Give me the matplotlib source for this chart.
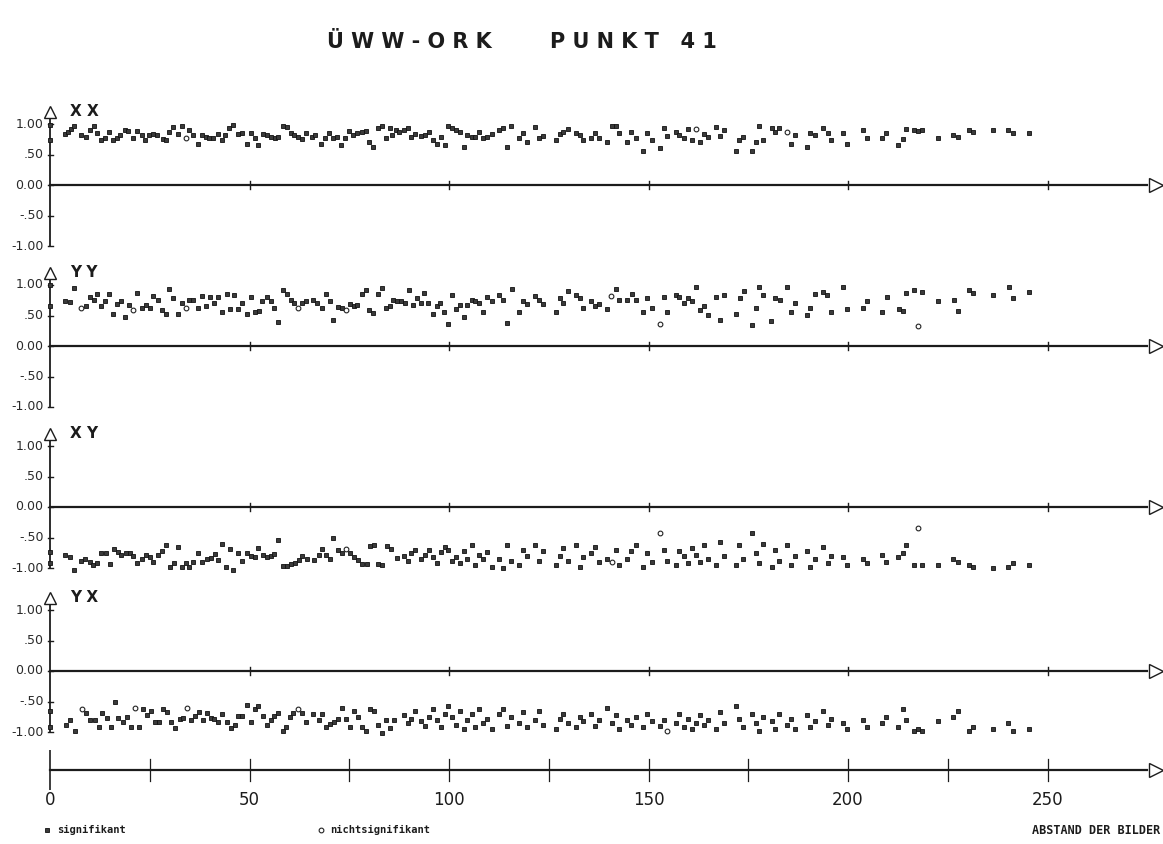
import numpy as np
import matplotlib.pyplot as plt

W, H = 1163, 844
PX_PER_UNIT = 3.99   # horizontal scale of the plot (pixels per Abstand unit)
X0_PX = 50           # pixel column of Abstand = 0
Y_SCALE = 61         # pixels per correlation unit

# ---- data: X X ----
xx_lag = [0, 0, 3.8, 4.6, 5.2, 5.9, 7.8, 8.9, 9.9, 11.0, 11.9, 12.8, 13.8, 14.9, 15.7, 16.7, 17.5, 18.8, 19.6,
          20.9, 21.7, 23.0, 23.8, 24.7, 25.7, 26.9, 28.2, 29.0, 29.9, 30.9, 32.0, 33.0, 34.1, 34.9, 35.8, 37.0,
          38.0, 39.1, 39.9, 40.9, 42.0, 43.0, 43.9, 44.9, 45.9, 47.0, 48.0, 49.3, 50.3, 51.4, 52.2, 53.5, 54.3,
          55.3, 56.4, 57.2, 58.3, 59.3, 60.3, 61.2, 62.2, 63.2, 64.2, 65.6, 66.4, 67.8, 68.8, 70.0, 70.9, 72.0,
          73.0, 74.0, 75.0, 76.0, 77.0, 78.1, 79.2, 80.0, 81.0, 82.3, 83.1, 84.2, 85.1, 85.8, 86.6, 87.5, 88.6,
          89.6, 90.5, 91.5, 92.9, 94.0, 95.1, 96.0, 96.9, 97.9, 98.9, 99.8, 100.7, 101.7, 102.8, 103.8, 104.6,
          105.7, 106.5, 107.5, 108.6, 109.6, 110.7, 112.5, 113.6, 114.6, 115.5, 117.6, 118.6, 119.6, 121.5,
          122.6, 123.6, 126.7, 127.8, 128.6, 129.7, 131.8, 132.8, 133.7, 135.5, 136.6, 137.7, 139.7, 140.9,
          141.8, 142.7, 144.7, 145.6, 146.8, 148.7, 149.7, 150.8, 152.9, 153.9, 154.7, 156.8, 157.7, 158.8,
          160.0, 161.0, 161.9, 162.9, 163.9, 165.0, 166.9, 167.9, 168.9, 172.0, 172.8, 173.8, 175.9, 176.9,
          177.8, 178.8, 180.9, 181.8, 182.8, 184.8, 185.8, 186.7, 189.7, 190.5, 191.7, 193.7, 194.9, 195.7,
          198.7, 199.7, 203.7, 204.7, 208.6, 209.5, 212.5, 213.7, 214.5, 216.5, 217.6, 218.6, 222.6, 226.4,
          227.6, 230.4, 231.4, 236.4, 240.2, 241.4, 245.3]
xx_val = [0.98, 0.74, .84, .87, .91, .97, .82, .78, .90, .96, .86, .74, .77, .87, .74, .77, .82, .90, .89,
          .77, .89, .82, .73, .82, .84, .82, .75, .73, .87, .95, .84, .96, .77, .90, .82, .68,
          .82, .79, .77, .77, .84, .73, .82, .93, .98, .84, .85, .68, .86, .77, .66, .84, .82,
          .78, .77, .78, .97, .95, .86, .82, .78, .75, .85, .78, .82, .68, .77, .86, .77, .79,
          .66, .77, .89, .82, .85, .87, .89, .70, .63, .93, .96, .77, .93, .82, .90, .87, .90,
          .93, .78, .84, .81, .82, .87, .73, .68, .79, .66, .97, .93, .90, .87, .62, .82,
          .78, .79, .87, .77, .79, .84, .90, .93, .63, .96, .77, .85, .71, .95,
          .77, .81, .73, .84, .87, .91, .85, .82, .73, .77, .86, .77, .70, .96,
          .97, .85, .70, .87, .77, .55, .85, .74, .60, .93, .81, .87, .82, .77,
          .91, .74, .91, .70, .84, .79, .95, .81, .90, .55, .74, .78, .56, .70,
          .97, .74, .94, .87, .93, .87, .68, .82, .62, .85, .82, .93, .86, .73,
          .86, .68, .90, .77, .77, .86, .66, .75, .91, .90, .89, .90, .77, .82,
          .79, .90, .87, .90, .90, .85, .85]
xx_open = [34.1, 161.9, 184.8]

# ---- data: Y Y ----
yy_lag = [0, 0, 3.8, 4.9, 5.9, 7.8, 8.9, 9.9, 11.0, 11.9, 12.8, 13.9, 14.9, 15.9, 16.9, 17.8, 18.8, 19.8, 20.9,
          21.9, 23.0, 24.0, 25.1, 25.9, 27.0, 28.0, 29.0, 29.9, 30.9, 32.0, 33.0, 34.0, 34.9, 35.9, 37.0, 38.0,
          39.1, 40.1, 41.1, 42.2, 43.0, 44.3, 45.1, 46.2, 47.2, 48.2, 49.3, 50.3, 51.4, 52.5, 53.2, 54.3, 55.3,
          56.2, 57.2, 58.3, 59.3, 60.3, 61.2, 62.1, 63.1, 64.1, 66.0, 67.0, 68.1, 69.2, 70.2, 71.0, 72.3, 73.3,
          74.3, 75.2, 76.2, 77.0, 78.1, 79.1, 80.0, 81.0, 82.1, 83.1, 84.2, 85.2, 86.0, 87.0, 87.9, 88.9, 90.1,
          90.9, 91.9, 92.9, 93.8, 94.8, 95.9, 96.9, 97.7, 98.8, 99.8, 100.7, 101.7, 102.8, 103.8, 104.6, 105.7,
          106.5, 107.5, 108.6, 109.6, 110.7, 112.5, 113.6, 114.6, 115.7, 117.6, 118.6, 119.6, 121.5, 122.6,
          123.6, 126.7, 127.8, 128.6, 129.7, 131.8, 132.8, 133.7, 135.5, 136.6, 137.7, 139.7, 140.6, 141.8,
          142.7, 144.7, 145.8, 146.8, 148.7, 149.7, 150.8, 152.9, 153.9, 154.7, 156.8, 157.7, 158.8, 160.0,
          161.0, 161.9, 162.9, 163.9, 165.0, 166.9, 167.9, 168.9, 172.0, 173.0, 174.0, 175.9, 176.9, 177.8,
          178.8, 180.8, 181.7, 183.0, 184.8, 185.8, 186.7, 189.7, 190.6, 191.7, 193.7, 194.7, 195.7, 198.7,
          199.7, 203.7, 204.7, 208.6, 209.7, 212.9, 213.7, 214.5, 216.5, 217.5, 218.6, 222.6, 226.5, 227.6,
          230.4, 231.4, 236.4, 240.4, 241.4, 245.4]
yy_val = [1.00, 0.66, .74, .72, .95, .62, .66, .80, .75, .85, .66, .73, .86, .52, .69, .73, .48, .67, .59,
          .87, .62, .67, .63, .82, .75, .59, .52, .93, .78, .52, .71, .62, .76, .76, .62, .82,
          .65, .80, .71, .81, .55, .86, .60, .84, .60, .71, .52, .81, .56, .58, .73, .81, .74,
          .63, .40, .92, .85, .76, .70, .62, .71, .74, .76, .70, .63, .86, .73, .42, .64, .63,
          .59, .69, .66, .67, .85, .91, .59, .54, .85, .95, .62, .65, .75, .74, .73, .70, .92,
          .67, .78, .70, .87, .70, .52, .66, .70, .56, .36, .84, .60, .67, .48, .67, .76,
          .73, .70, .55, .80, .73, .84, .75, .37, .93, .56, .73, .69, .82, .75,
          .69, .56, .78, .71, .90, .84, .78, .63, .73, .65, .69, .60, .82, .93,
          .75, .75, .86, .75, .55, .78, .63, .36, .81, .56, .84, .81, .70, .78,
          .73, .96, .59, .66, .51, .81, .42, .84, .52, .78, .90, .34, .63, .97,
          .84, .41, .78, .75, .96, .55, .71, .51, .62, .85, .89, .84, .56, .96,
          .60, .63, .73, .55, .80, .60, .58, .87, .92, .33, .89, .74, .75, .58,
          .92, .87, .84, .96, .78, .89]
yy_open = [7.8, 20.9, 34.0, 62.1, 74.3, 140.6, 152.9, 217.5]

# ---- data: X Y ----
xy_lag = [0, 0, 3.8, 4.9, 6.0, 7.8, 8.8, 9.9, 10.9, 11.9, 12.9, 14.0, 15.0, 16.0, 17.1, 17.9, 19.1, 20.1, 20.9,
          21.9, 23.0, 24.0, 25.1, 25.9, 27.0, 28.0, 29.0, 30.1, 31.1, 32.2, 33.0, 34.1, 34.9, 35.9, 37.2, 38.2,
          39.3, 40.3, 41.4, 42.2, 43.0, 44.1, 45.1, 45.9, 47.0, 48.2, 49.3, 50.3, 51.4, 52.2, 53.5, 54.3, 55.3,
          56.2, 57.2, 58.3, 59.3, 60.3, 61.4, 62.4, 63.2, 64.3, 66.2, 67.3, 68.1, 69.2, 70.2, 71.0, 72.1, 73.3,
          74.3, 75.2, 76.2, 77.3, 78.3, 79.4, 80.2, 81.2, 82.1, 83.1, 84.4, 85.4, 86.9, 88.6, 89.6, 90.5, 91.5,
          92.9, 94.0, 95.1, 96.0, 96.9, 97.9, 98.9, 99.8, 100.7, 101.7, 102.8, 103.8, 104.6, 105.7, 106.5,
          107.5, 108.6, 109.6, 110.7, 112.5, 113.6, 114.6, 115.5, 117.6, 118.6, 119.6, 121.5, 122.6, 123.6,
          126.7, 127.8, 128.6, 129.7, 131.8, 132.8, 133.7, 135.5, 136.6, 137.7, 139.7, 140.9, 141.8, 142.7,
          144.7, 145.6, 146.8, 148.7, 149.7, 150.8, 152.9, 153.9, 154.7, 156.8, 157.7, 158.8, 160.0, 161.0,
          161.9, 162.9, 163.9, 165.0, 166.9, 167.9, 168.9, 172.0, 172.8, 173.8, 175.9, 176.9, 177.8, 178.8,
          180.9, 181.8, 182.8, 184.8, 185.8, 186.7, 189.7, 190.5, 191.7, 193.7, 194.9, 195.7, 198.7, 199.7,
          203.7, 204.7, 208.6, 209.5, 212.5, 213.7, 214.5, 216.5, 217.6, 218.6, 222.6, 226.4, 227.6, 230.4,
          231.4, 236.4, 240.2, 241.4, 245.3]
xy_val = [-0.73, -0.92, -.79, -.82, -1.04, -.88, -.86, -.90, -.95, -.91, -.76, -.76, -.93, -.69, -.73, -.79,
          -.76, -.75, -.80, -.92, -.86, -.79, -.82, -.90, -.79, -.72, -.62, -.99, -.91, -.65, -.99, -.91,
          -.98, -.90, -.75, -.90, -.86, -.84, -.77, -.87, -.60, -.99, -.69, -1.04, -.75, -.88, -.75, -.80,
          -.82, -.68, -.79, -.82, -.81, -.77, -.54, -.97, -.97, -.93, -.91, -.87, -.81, -.86, -.87, -.79,
          -.69, -.79, -.86, -.50, -.71, -.76, -.69, -.76, -.82, -.87, -.93, -.93, -.64, -.62, -.93, -.95,
          -.64, -.69, -.84, -.80, -.88, -.75, -.70, -.85, -.78, -.70, -.82, -.92, -.74, -.65, -.70, -.88,
          -.82, -.92, -.72, -.85, -.62, -.95, -.78, -.85, -.74, -.98, -.86, -1.0, -.62, -.88, -.95, -.70,
          -.80, -.62, -.88, -.72, -.95, -.80, -.68, -.88, -.62, -.98, -.82, -.75, -.65, -.90, -.85, -.90,
          -.70, -.95, -.85, -.72, -.62, -.98, -.75, -.90, -.42, -.70, -.88, -.95, -.72, -.80, -.92, -.68,
          -.78, -.90, -.62, -.85, -.95, -.58, -.80, -.95, -.62, -.85, -.42, -.75, -.92, -.60, -.98, -.70,
          -.88, -.62, -.95, -.80, -.72, -.98, -.85, -.65, -.92, -.80, -.82, -.95, -.85, -.92, -.78, -.90,
          -.82, -.75, -.62, -.95, -.35, -.95, -.95, -.85, -.90, -.95, -.98, -1.0, -.98, -.92, -.95]
xy_open = [74.3, 140.9, 152.9, 217.6]

# ---- data: Y X ----
yx_lag = [0, 0, 3.9, 5.0, 6.3, 7.9, 9.0, 10.0, 11.3, 12.3, 13.1, 14.2, 15.2, 16.3, 17.1, 18.2, 19.4, 20.3, 21.3,
          22.3, 23.2, 24.2, 25.3, 26.3, 27.4, 28.2, 29.2, 30.3, 31.3, 32.6, 33.4, 34.3, 35.3, 36.3, 37.3, 38.3,
          39.3, 40.3, 41.2, 42.2, 43.2, 44.3, 45.3, 46.4, 47.2, 48.2, 49.3, 50.3, 51.4, 52.2, 53.3, 54.3, 55.3,
          56.2, 57.2, 58.3, 59.2, 60.2, 61.0, 62.1, 63.1, 64.2, 66.0, 67.3, 68.1, 69.2, 70.2, 71.2, 72.3, 73.1,
          74.3, 75.2, 76.2, 77.3, 78.3, 79.2, 80.2, 81.2, 82.1, 83.1, 84.2, 85.2, 86.2, 88.6, 89.6, 90.5, 91.5,
          92.9, 94.0, 95.1, 96.0, 96.9, 97.9, 98.9, 99.8, 100.7, 101.7, 102.8, 103.8, 104.6, 105.7, 106.5,
          107.5, 108.6, 109.6, 110.7, 112.5, 113.6, 114.6, 115.5, 117.6, 118.6, 119.6, 121.5, 122.6, 123.6,
          126.7, 127.8, 128.6, 129.7, 131.8, 132.8, 133.7, 135.5, 136.6, 137.7, 139.7, 140.9, 141.8, 142.7,
          144.7, 145.6, 146.8, 148.7, 149.7, 150.8, 152.9, 153.9, 154.7, 156.8, 157.7, 158.8, 160.0, 161.0,
          161.9, 162.9, 163.9, 165.0, 166.9, 167.9, 168.9, 172.0, 172.8, 173.8, 175.9, 176.9, 177.8, 178.8,
          180.9, 181.8, 182.8, 184.8, 185.8, 186.7, 189.7, 190.5, 191.7, 193.7, 194.9, 195.7, 198.7, 199.7,
          203.7, 204.7, 208.6, 209.5, 212.5, 213.7, 214.5, 216.5, 217.6, 218.6, 222.6, 226.4, 227.6, 230.4,
          231.4, 236.4, 240.2, 241.4, 245.3]
yx_val = [-0.66, -0.91, -.88, -.81, -.98, -.63, -.69, -.81, -.80, -.92, -.69, -.77, -.92, -.50, -.77, -.83,
          -.76, -.92, -.61, -.91, -.63, -.72, -.66, -.84, -.84, -.62, -.67, -.84, -.93, -.78, -.77, -.60,
          -.80, -.74, -.67, -.81, -.69, -.77, -.78, -.84, -.70, -.84, -.93, -.88, -.74, -.73, -.55, -.83,
          -.62, -.58, -.74, -.89, -.80, -.74, -.69, -.98, -.92, -.76, -.69, -.63, -.69, -.83, -.70, -.81,
          -.70, -.91, -.87, -.84, -.78, -.60, -.78, -.92, -.65, -.76, -.91, -.98, -.63, -.66, -.88, -1.02,
          -.81, -.93, -.81, -.72, -.85, -.78, -.66, -.82, -.90, -.75, -.62, -.80, -.92, -.70, -.58, -.75,
          -.88, -.65, -.95, -.80, -.70, -.92, -.62, -.85, -.78, -.95, -.70, -.62, -.90, -.75, -.85, -.68,
          -.92, -.80, -.65, -.88, -.95, -.78, -.70, -.85, -.92, -.75, -.82, -.70, -.90, -.80, -.60, -.85,
          -.72, -.95, -.80, -.88, -.75, -.92, -.70, -.82, -.90, -.80, -.98, -.85, -.70, -.92, -.78, -.95,
          -.85, -.72, -.88, -.80, -.95, -.68, -.85, -.58, -.78, -.92, -.70, -.85, -.98, -.75, -.82, -.95,
          -.70, -.88, -.78, -.95, -.72, -.92, -.82, -.65, -.88, -.78, -.85, -.95, -.80, -.92, -.85, -.75,
          -.92, -.62, -.80, -.98, -.95, -.98, -.82, -.75, -.65, -.98, -.92, -.95, -.85, -.98, -.95]
yx_open = [7.9, 21.3, 34.3, 62.1, 154.7]

panel_labels = ["X X", "Y Y", "X Y", "Y X"]
ytick_vals = [1.0, 0.5, 0.0, -0.5, -1.0]
ytick_text = ["1.00", ".50", "0.00", "-.50", "-1.00"]
xtick_major = [0, 50, 100, 150, 200, 250]
xtick_minor = [25, 75, 125, 175, 225]

INK = "#1c1c1c"
XLIM = (-X0_PX / PX_PER_UNIT, (W - X0_PX) / PX_PER_UNIT)


def add_panel(fig, label, lag, val, open_lags, zero_px):
    top, bot = 1.45, 1.35
    y0 = 1 - (zero_px + bot * Y_SCALE) / H
    h = (top + bot) * Y_SCALE / H
    ax = fig.add_axes([0, y0, 1, h])
    ax.set_xlim(*XLIM)
    ax.set_ylim(-bot, top)
    ax.patch.set_alpha(0)
    ax.axis("off")

    # vertical axis with open arrow head
    ax.plot([0, 0], [-1.0, 1.1], color=INK, lw=1.3, zorder=2)
    ax.plot(0, 1.2, marker="^", ms=9, mfc="white", mec=INK, mew=1.0, zorder=3)
    for v, t in zip(ytick_vals, ytick_text):
        ax.plot([-0.5, 0.8], [v, v], color=INK, lw=1.0)
        ax.text(-1.6, v, t, ha="right", va="center", fontsize=9, color="#2a2a2a")

    # zero line with arrow
    ax.plot([0, 275], [0, 0], color=INK, lw=1.6, zorder=2)
    ax.plot(277.2, 0, marker=">", ms=10, mfc="white", mec=INK, mew=1.0, zorder=3)
    for t in xtick_major[1:]:
        ax.plot([t, t], [-0.06, 0.06], color=INK, lw=1.0)

    ax.text(5, 1.2, label, fontsize=11, fontweight="bold", va="center", ha="left", color=INK)

    lag = np.array(lag)
    val = np.array(val)
    is_open = np.isin(lag, open_lags)
    ax.plot(lag[~is_open], val[~is_open], ls="none", marker="s", ms=3.4,
            mfc="#3a3a3a", mec="#111111", mew=0.6, zorder=4)
    ax.plot(lag[is_open], val[is_open], ls="none", marker="o", ms=3.4,
            mfc="white", mec="#222222", mew=0.8, zorder=4)
    return ax


def add_bottom_axis(fig):
    # axes covering pixel rows 750..790, y=0 at row 770
    ax = fig.add_axes([0, 1 - 790 / H, 1, 40 / H])
    ax.set_xlim(*XLIM)
    ax.set_ylim(-1, 1)
    ax.patch.set_alpha(0)
    ax.axis("off")
    ax.plot([0, 275], [0, 0], color=INK, lw=1.6)
    ax.plot(277.2, 0, marker=">", ms=10, mfc="white", mec=INK, mew=1.0, zorder=3)
    ax.plot([0, 0], [-1.0, 1.0], color=INK, lw=1.2)
    for t in xtick_major[1:] + xtick_minor:
        ax.plot([t, t], [-0.55, 0.55], color=INK, lw=0.9)
    for t in xtick_major:
        ax.text(t, -1.5, str(t), ha="center", va="center", fontsize=12, color=INK, clip_on=False)

    # legend row and axis caption
    ax.plot(-0.75, -3.0, ls="none", marker="s", ms=3.4, mfc="#3a3a3a", mec="#111111", mew=0.6, clip_on=False)
    ax.text(1.8, -3.0, "signifikant", fontsize=7.5, family="DejaVu Sans Mono", fontweight="bold",
            va="center", ha="left", color=INK, clip_on=False)
    ax.plot(67.9, -3.0, ls="none", marker="o", ms=3.4, mfc="white", mec="#222222", mew=0.8, clip_on=False)
    ax.text(70.3, -3.0, "nichtsignifikant", fontsize=7.5, family="DejaVu Sans Mono", fontweight="bold",
            va="center", ha="left", color=INK, clip_on=False)
    ax.text(278.2, -3.0, "ABSTAND DER BILDER", fontsize=8.5, family="DejaVu Sans Mono", fontweight="bold",
            va="center", ha="right", color=INK, clip_on=False)


def main():
    fig = plt.figure(figsize=(W / 100, H / 100), dpi=100)
    fig.patch.set_facecolor("white")

    fig.text(409 / W, 1 - 42 / H, "Ü W W - O R K", ha="center", va="center",
             fontsize=15, fontweight="bold", color=INK)
    fig.text(633 / W, 1 - 42 / H, "P U N K T   4 1", ha="center", va="center",
             fontsize=15, fontweight="bold", color=INK)

    panels = [
        (panel_labels[0], xx_lag, xx_val, xx_open, 185),
        (panel_labels[1], yy_lag, yy_val, yy_open, 346),
        (panel_labels[2], xy_lag, xy_val, xy_open, 507),
        (panel_labels[3], yx_lag, yx_val, yx_open, 671),
    ]
    for label, lag, val, op, z in panels:
        add_panel(fig, label, lag, val, op, z)
    add_bottom_axis(fig)

    fig.savefig("out.png", dpi=100, facecolor="white")


if __name__ == "__main__":
    main()
